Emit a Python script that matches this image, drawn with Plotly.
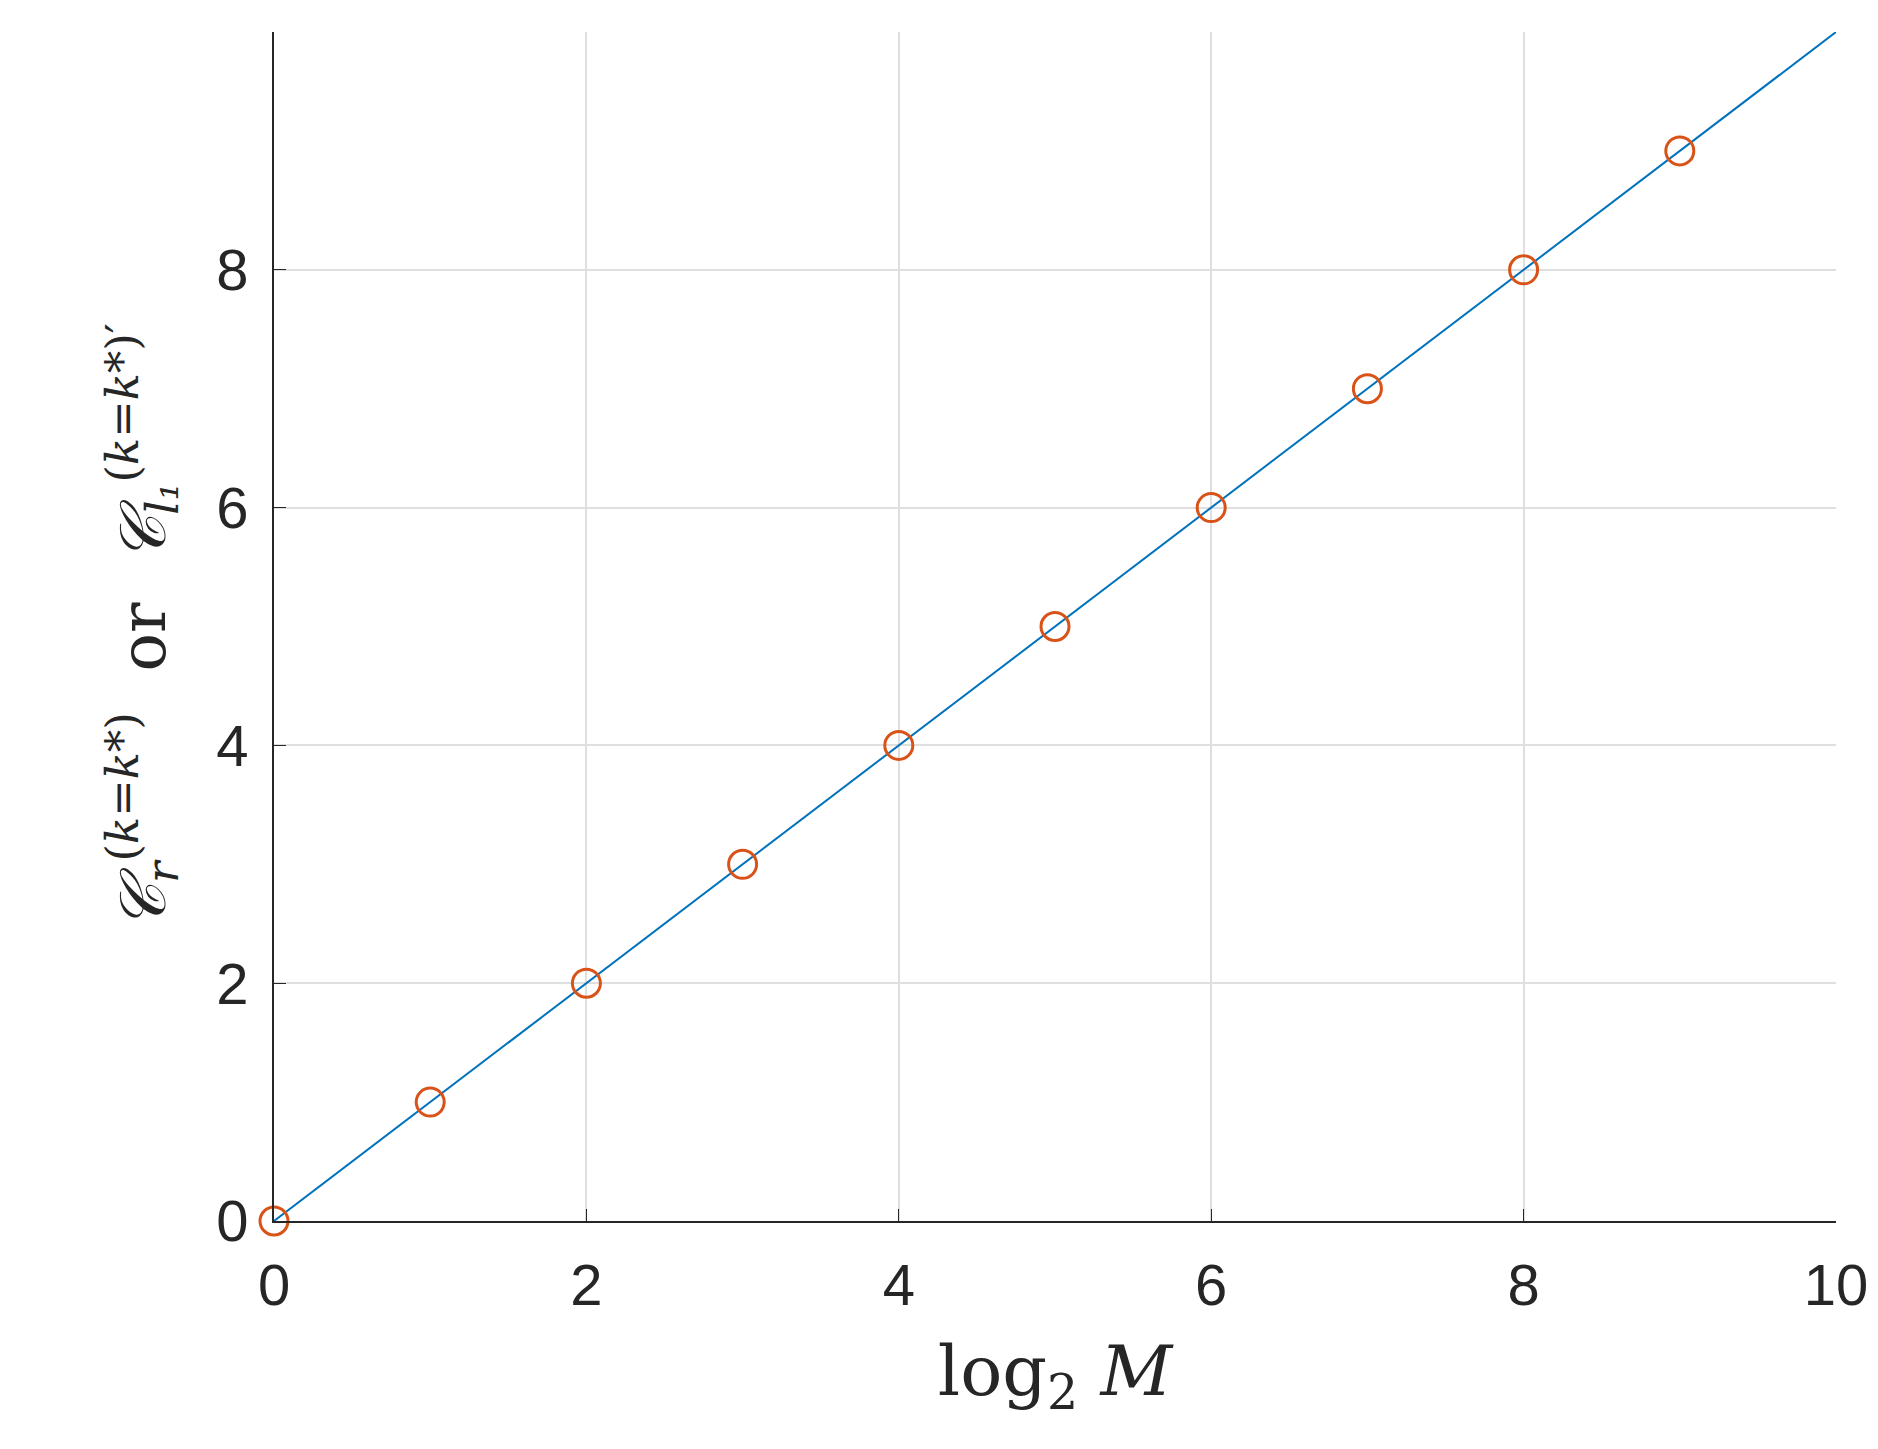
import plotly.graph_objects as go

line_x = [0, 10]
line_y = [0, 10]
pts_x = [0, 1, 2, 3, 4, 5, 6, 7, 8, 9]
pts_y = [0, 1, 2, 3, 4, 5, 6, 7, 8, 9]
ticks = [0, 2, 4, 6, 8, 10]

fig = go.Figure()
fig.add_trace(go.Scatter(x=line_x, y=line_y, mode="lines",
                         line=dict(color="#0072BD", width=2), showlegend=False))
fig.add_trace(go.Scatter(x=pts_x, y=pts_y, mode="markers",
                         marker=dict(symbol="circle-open", size=28, color="#D95319",
                                     line=dict(width=3)),
                         showlegend=False, cliponaxis=False))

axis = dict(range=[0, 10], tickvals=ticks, showgrid=True, gridcolor="#DFDFDF", gridwidth=2,
            zeroline=False, showline=True, linecolor="#262626", linewidth=2,
            ticks="inside", ticklen=12, tickcolor="#262626", mirror=False,
            ticklabelstandoff=12,
            tickfont=dict(family="Liberation Sans, Arial", size=58, color="#262626"))

fig.update_layout(
    width=1878, height=1449, plot_bgcolor="white", paper_bgcolor="white",
    margin=dict(l=266, r=50, t=24, b=236),
    xaxis=dict(axis, title=dict(text="log<sub>2</sub> <i>M</i>", standoff=30,
                                font=dict(family="DejaVu Serif, serif", size=70, color="#262626"))),
    yaxis=dict(axis, title=dict(
        text="<i>𝒞<sub>r</sub></i><sup>(<i>k</i>=<i>k</i>*)</sup>  or  <i>𝒞<sub>l₁</sub></i><sup>(<i>k</i>=<i>k</i>*)′</sup>",
        standoff=30, font=dict(family="DejaVu Serif, serif", size=64, color="#262626"))),
)
fig.write_html("out.html")
